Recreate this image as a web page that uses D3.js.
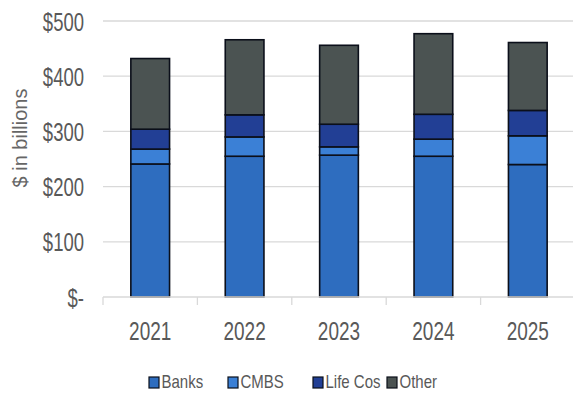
<!DOCTYPE html>
<html>
<head>
<meta charset="utf-8">
<script src="https://cdnjs.cloudflare.com/ajax/libs/d3/7.8.5/d3.min.js"></script>
<style>
body {margin:0; background:#fff;}
text {fill:#595959; font-family:'Liberation Sans',Arial,sans-serif;}
</style>
</head>
<body>
<div id="chart"></div>
<script>
// data ($ billions)
var years = ["2021","2022","2023","2024","2025"];
var series = ["Banks","CMBS","Life Cos","Other"];
var banks = [241,255,257,255,240];
var cmbs = [27,35,15,31,52];
var lifeCos = [36,40,41,45,46];
var other = [128,136,143,146,123];
var yTicks = [0,100,200,300,400,500];
var yTickLabels = ["$-","$100","$200","$300","$400","$500"];
var colors = ["#2e6dbf","#3b80d6","#223f95","#4b5352"];

var W = 573, H = 402;
var svg = d3.select("#chart").append("svg").attr("width",W).attr("height",H);

var x = d3.scaleBand().domain(years).range([103,575]).paddingInner(0.59).paddingOuter(0.295);
var y = d3.scaleLinear().domain([0,500]).range([297,21]);

// gridlines
svg.append("g").selectAll("line")
  .data(yTicks.slice(1))
  .enter().append("line")
  .attr("x1",103).attr("x2",W)
  .attr("y1",function(d){return y(d);}).attr("y2",function(d){return y(d);})
  .attr("stroke","#d9d9d9").attr("stroke-width",1.3);

// y labels (text in the picture is stretched vertically)
svg.append("g").selectAll("text")
  .data(yTicks)
  .enter().append("text")
  .attr("transform",function(d){return "translate(84,"+(y(d)+9.5)+") scale(1,1.35)";})
  .attr("text-anchor","end")
  .style("font-size","18.5px")
  .text(function(d,i){return yTickLabels[i];});

// stacked bars
var table = years.map(function(yr,i){
  return {year:yr, "Banks":banks[i], "CMBS":cmbs[i], "Life Cos":lifeCos[i], "Other":other[i]};
});
var stack = d3.stack().keys(series)(table);

svg.append("g").selectAll("g")
  .data(stack)
  .enter().append("g")
  .attr("fill",function(d,i){return colors[i];})
  .selectAll("rect")
  .data(function(d){return d;})
  .enter().append("rect")
  .attr("x",function(d){return x(d.data.year);})
  .attr("y",function(d){return y(d[1]);})
  .attr("width",x.bandwidth())
  .attr("height",function(d){return y(d[0])-y(d[1]);})
  .attr("stroke","#0b0f1a")
  .attr("stroke-width",1.6);

// x axis
var xa = svg.append("g").attr("transform","translate(0,297)");
xa.append("line").attr("x1",103).attr("x2",W).attr("y1",0).attr("y2",0)
  .attr("stroke","#d9d9d9").attr("stroke-width",1.3);
var tickXs = [103].concat(years.slice(1).map(function(d){return x(d)-x.step()*x.paddingInner()/2;}));
xa.selectAll("line.tk")
  .data(tickXs)
  .enter().append("line").attr("class","tk")
  .attr("x1",function(d){return d;}).attr("x2",function(d){return d;})
  .attr("y1",0).attr("y2",8)
  .attr("stroke","#d9d9d9").attr("stroke-width",1.3);
xa.selectAll("text")
  .data(years)
  .enter().append("text")
  .attr("transform",function(d){return "translate("+(x(d)+x.bandwidth()/2)+",43) scale(1,1.33)";})
  .attr("text-anchor","middle")
  .style("font-size","19px")
  .text(function(d){return d;});

// y axis title
svg.append("text")
  .attr("transform","translate(27,138) rotate(-90)")
  .attr("text-anchor","middle")
  .style("font-size","20px")
  .style("fill","#666")
  .text("$ in billions");

// legend
var legX = [149,228,313,387];
var leg = svg.append("g").selectAll("g")
  .data(series)
  .enter().append("g")
  .attr("transform",function(d,i){return "translate("+legX[i]+",377)";});
leg.append("rect")
  .attr("width",10).attr("height",11)
  .attr("fill",function(d,i){return colors[i];})
  .attr("stroke","#0b0f1a").attr("stroke-width",1.2);
leg.append("text")
  .attr("transform","translate(12.5,11) scale(1,1.22)")
  .style("font-size","15px")
  .text(function(d){return d;});
</script>
</body>
</html>
